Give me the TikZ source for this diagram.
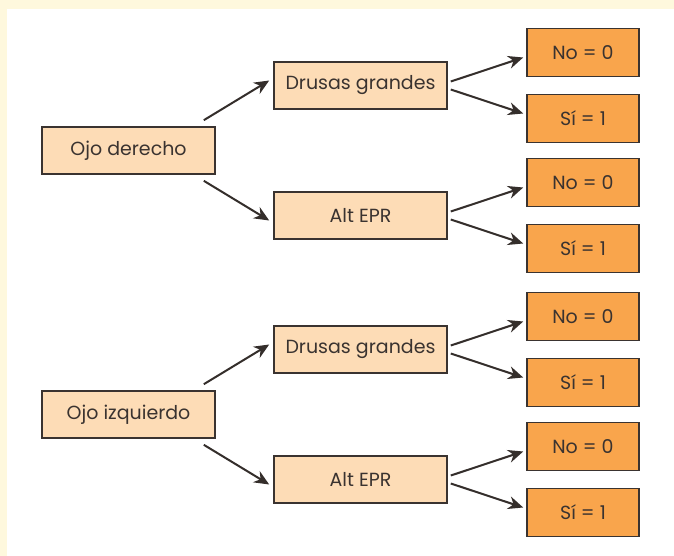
\documentclass[tikz,border=0pt]{standalone}
\usepackage{fontspec}
\setmainfont{Poppins}
\usetikzlibrary{arrows.meta,positioning}
\definecolor{peach}{HTML}{FDDCB6}
\definecolor{orangebox}{HTML}{F9A54C}
\definecolor{cream}{HTML}{FEF8DD}
\definecolor{inkgray}{HTML}{3A3330}
\tikzset{
  >=Stealth,
  line/.style  = {->, line width=2pt, draw=inkgray!90!black, >={Stealth[length=15pt,width=13pt]}},
  block/.style = {rectangle, draw=inkgray, line width=1.6pt, fill=peach, minimum width=173pt, minimum height=47pt, inner sep=0pt, text=inkgray, font=\fontsize{19}{21}\selectfont},
  leaf/.style  = {block, fill=orangebox, minimum width=112pt, minimum height=48pt}
}
\begin{document}
\begin{tikzpicture}[x=1pt, y=1pt, on grid]

% Background
\fill[cream] (0,0) rectangle (674,-556);
\fill[white] (7,-9) rectangle (674,-556);
\useasboundingbox (0,0) rectangle (674,-556);

% Right eye
\node[block] (od) at (128.5,-150.5) {Ojo derecho};
\node[block] (dgd) [above right=65pt and 232pt of od] {Drusas grandes};
\node[block] (aed) [below right=65pt and 232pt of od] {Alt EPR};
\node[leaf] (dgdno) [above right=33pt and 222.5pt of dgd] {No = 0};
\node[leaf] (dgdsi) [below right=33pt and 222.5pt of dgd] {Sí = 1};
\node[leaf] (aedno) [above right=33pt and 222.5pt of aed] {No = 0};
\node[leaf] (aedsi) [below right=33pt and 222.5pt of aed] {Sí = 1};

% Left eye
\node[block] (oi) at (128.5,-414.5) {Ojo izquierdo};
\node[block] (dgi) [above right=65pt and 232pt of oi] {Drusas grandes};
\node[block] (aei) [below right=65pt and 232pt of oi] {Alt EPR};
\node[leaf] (dgino) [above right=33pt and 222.5pt of dgi] {No = 0};
\node[leaf] (dgisi) [below right=33pt and 222.5pt of dgi] {Sí = 1};
\node[leaf] (aeino) [above right=33pt and 222.5pt of aei] {No = 0};
\node[leaf] (aeisi) [below right=33pt and 222.5pt of aei] {Sí = 1};

% Connections
\draw[line] ([shift={(-12,6)}]od.north east) -- ([shift={(-4,5)}]dgd.west);
\draw[line] ([shift={(-12,-6)}]od.south east) -- ([shift={(-4,-5)}]aed.west);
\draw[line] ([shift={(3,4)}]dgd.east) -- ([shift={(-3,-5)}]dgdno.west);
\draw[line] ([shift={(3,-4)}]dgd.east) -- ([shift={(-3,5)}]dgdsi.west);
\draw[line] ([shift={(3,4)}]aed.east) -- ([shift={(-3,-5)}]aedno.west);
\draw[line] ([shift={(3,-4)}]aed.east) -- ([shift={(-3,5)}]aedsi.west);

\draw[line] ([shift={(-12,6)}]oi.north east) -- ([shift={(-4,5)}]dgi.west);
\draw[line] ([shift={(-12,-6)}]oi.south east) -- ([shift={(-4,-5)}]aei.west);
\draw[line] ([shift={(3,4)}]dgi.east) -- ([shift={(-3,-5)}]dgino.west);
\draw[line] ([shift={(3,-4)}]dgi.east) -- ([shift={(-3,5)}]dgisi.west);
\draw[line] ([shift={(3,4)}]aei.east) -- ([shift={(-3,-5)}]aeino.west);
\draw[line] ([shift={(3,-4)}]aei.east) -- ([shift={(-3,5)}]aeisi.west);

\end{tikzpicture}
\end{document}
